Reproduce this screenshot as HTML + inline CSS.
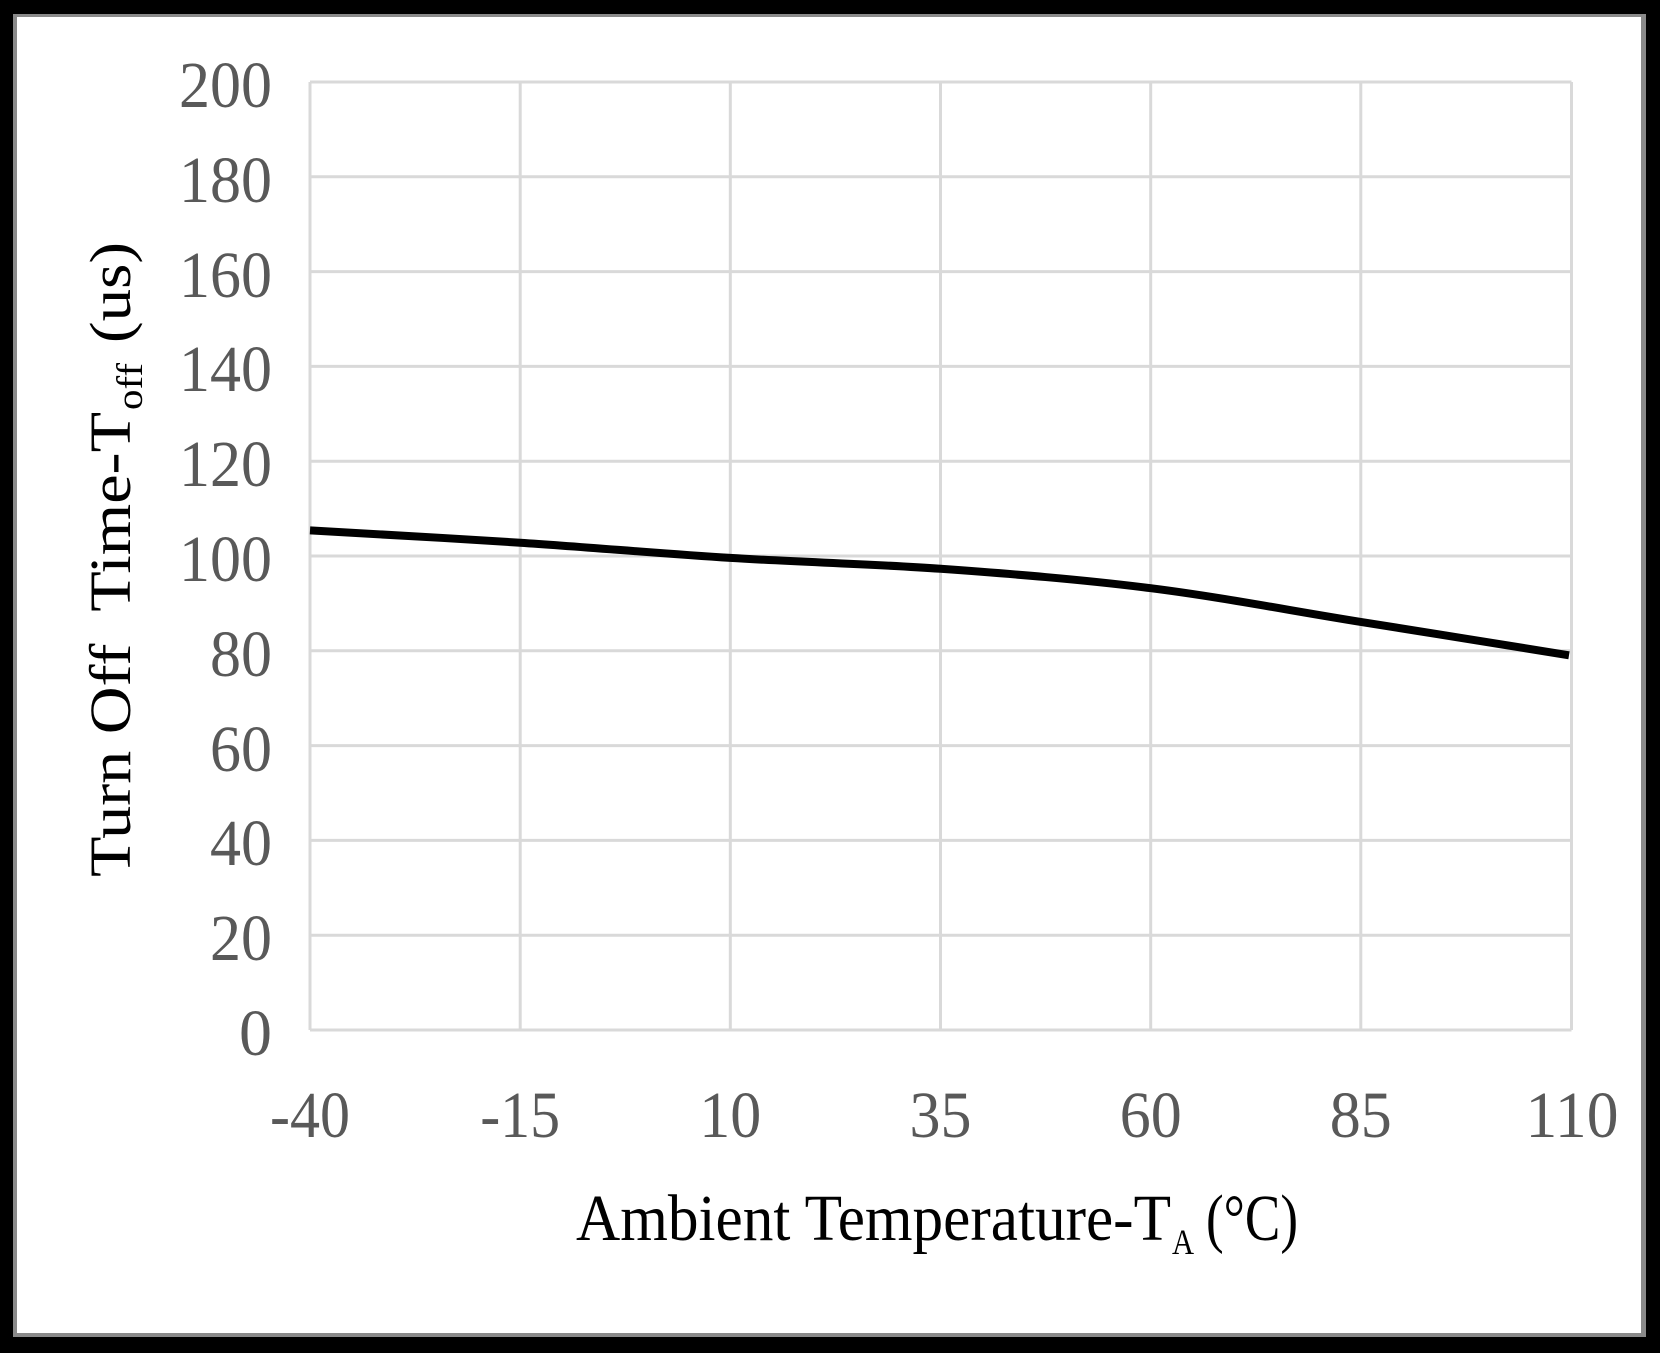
<!DOCTYPE html>
<html>
<head>
<meta charset="utf-8">
<style>
  html,body{margin:0;padding:0;background:#000;}
  body{width:1660px;height:1353px;overflow:hidden;}
  svg{display:block;}
  text{font-family:"Liberation Serif","DejaVu Serif",serif;}
</style>
</head>
<body>
<svg width="1660" height="1353" viewBox="0 0 1660 1353" xmlns="http://www.w3.org/2000/svg">
  <rect x="0" y="0" width="1660" height="1353" fill="#000"/>
  <rect x="13" y="14" width="1633" height="1323" fill="#8a8a8a"/>
  <rect x="17" y="17" width="1624" height="1316" fill="#fff"/>

  <!-- gridlines -->
  <g stroke="#d9d9d9" stroke-width="3" fill="none">
    <line x1="310" y1="82" x2="1571.5" y2="82"/>
    <line x1="310" y1="176.8" x2="1571.5" y2="176.8"/>
    <line x1="310" y1="271.6" x2="1571.5" y2="271.6"/>
    <line x1="310" y1="366.4" x2="1571.5" y2="366.4"/>
    <line x1="310" y1="461.2" x2="1571.5" y2="461.2"/>
    <line x1="310" y1="556" x2="1571.5" y2="556"/>
    <line x1="310" y1="650.8" x2="1571.5" y2="650.8"/>
    <line x1="310" y1="745.6" x2="1571.5" y2="745.6"/>
    <line x1="310" y1="840.4" x2="1571.5" y2="840.4"/>
    <line x1="310" y1="935.2" x2="1571.5" y2="935.2"/>
    <line x1="310" y1="1030" x2="1571.5" y2="1030"/>
    <line x1="310" y1="82" x2="310" y2="1030"/>
    <line x1="520.2" y1="82" x2="520.2" y2="1030"/>
    <line x1="730.3" y1="82" x2="730.3" y2="1030"/>
    <line x1="940.5" y1="82" x2="940.5" y2="1030"/>
    <line x1="1150.7" y1="82" x2="1150.7" y2="1030"/>
    <line x1="1360.8" y1="82" x2="1360.8" y2="1030"/>
    <line x1="1571.5" y1="82" x2="1571.5" y2="1030"/>
  </g>

  <!-- data series -->
  <path d="M310,530.4 C345,532.45 450.1,538.12 520.2,542.7 C590.3,547.28 660.2,553.55 730.3,557.9 C800.4,562.25 870.4,563.75 940.5,568.8 C1010.6,573.85 1080.6,579.35 1150.7,588.2 C1220.8,597.05 1290.7,610.68 1360.8,621.9 C1430.9,633.12 1536,649.9 1569,655.3"
        fill="none" stroke="#000" stroke-width="8" stroke-linecap="butt" stroke-linejoin="round"/>

  <!-- y tick labels -->
  <g fill="#595959" font-size="66" text-anchor="end">
    <text x="272" y="107" textLength="93" lengthAdjust="spacingAndGlyphs">200</text>
    <text x="272" y="202" textLength="93" lengthAdjust="spacingAndGlyphs">180</text>
    <text x="272" y="297" textLength="93" lengthAdjust="spacingAndGlyphs">160</text>
    <text x="272" y="391" textLength="93" lengthAdjust="spacingAndGlyphs">140</text>
    <text x="272" y="486" textLength="93" lengthAdjust="spacingAndGlyphs">120</text>
    <text x="272" y="581" textLength="93" lengthAdjust="spacingAndGlyphs">100</text>
    <text x="272" y="676" textLength="62" lengthAdjust="spacingAndGlyphs">80</text>
    <text x="272" y="771" textLength="62" lengthAdjust="spacingAndGlyphs">60</text>
    <text x="272" y="865" textLength="62" lengthAdjust="spacingAndGlyphs">40</text>
    <text x="272" y="960" textLength="62" lengthAdjust="spacingAndGlyphs">20</text>
    <text x="272" y="1055">0</text>
  </g>

  <!-- x tick labels -->
  <g fill="#595959" font-size="66" text-anchor="middle">
    <text x="310" y="1137" textLength="80" lengthAdjust="spacingAndGlyphs">-40</text>
    <text x="520.2" y="1137" textLength="80" lengthAdjust="spacingAndGlyphs">-15</text>
    <text x="730.3" y="1137" textLength="62" lengthAdjust="spacingAndGlyphs">10</text>
    <text x="940.5" y="1137" textLength="62" lengthAdjust="spacingAndGlyphs">35</text>
    <text x="1150.7" y="1137" textLength="62" lengthAdjust="spacingAndGlyphs">60</text>
    <text x="1360.8" y="1137" textLength="62" lengthAdjust="spacingAndGlyphs">85</text>
    <text x="1572" y="1137" textLength="93" lengthAdjust="spacingAndGlyphs">110</text>
  </g>

  <!-- x axis title -->
  <g fill="#000">
    <text x="576" y="1240" font-size="66" textLength="595" lengthAdjust="spacingAndGlyphs">Ambient Temperature-T</text>
    <text x="1172" y="1254" font-size="36" textLength="22" lengthAdjust="spacingAndGlyphs">A</text>
    <text x="1206" y="1240" font-size="66" textLength="92" lengthAdjust="spacingAndGlyphs">(°C)</text>
  </g>

  <!-- y axis title -->
  <g fill="#000" transform="translate(130,877) rotate(-90)">
    <text x="0" y="0" font-size="58" textLength="465" lengthAdjust="spacingAndGlyphs" xml:space="preserve">Turn Off&#160; Time-T</text>
    <text x="467" y="12" font-size="37" textLength="47" lengthAdjust="spacingAndGlyphs">off</text>
    <text x="534" y="0" font-size="58" textLength="101" lengthAdjust="spacingAndGlyphs">(us)</text>
  </g>
</svg>
</body>
</html>
